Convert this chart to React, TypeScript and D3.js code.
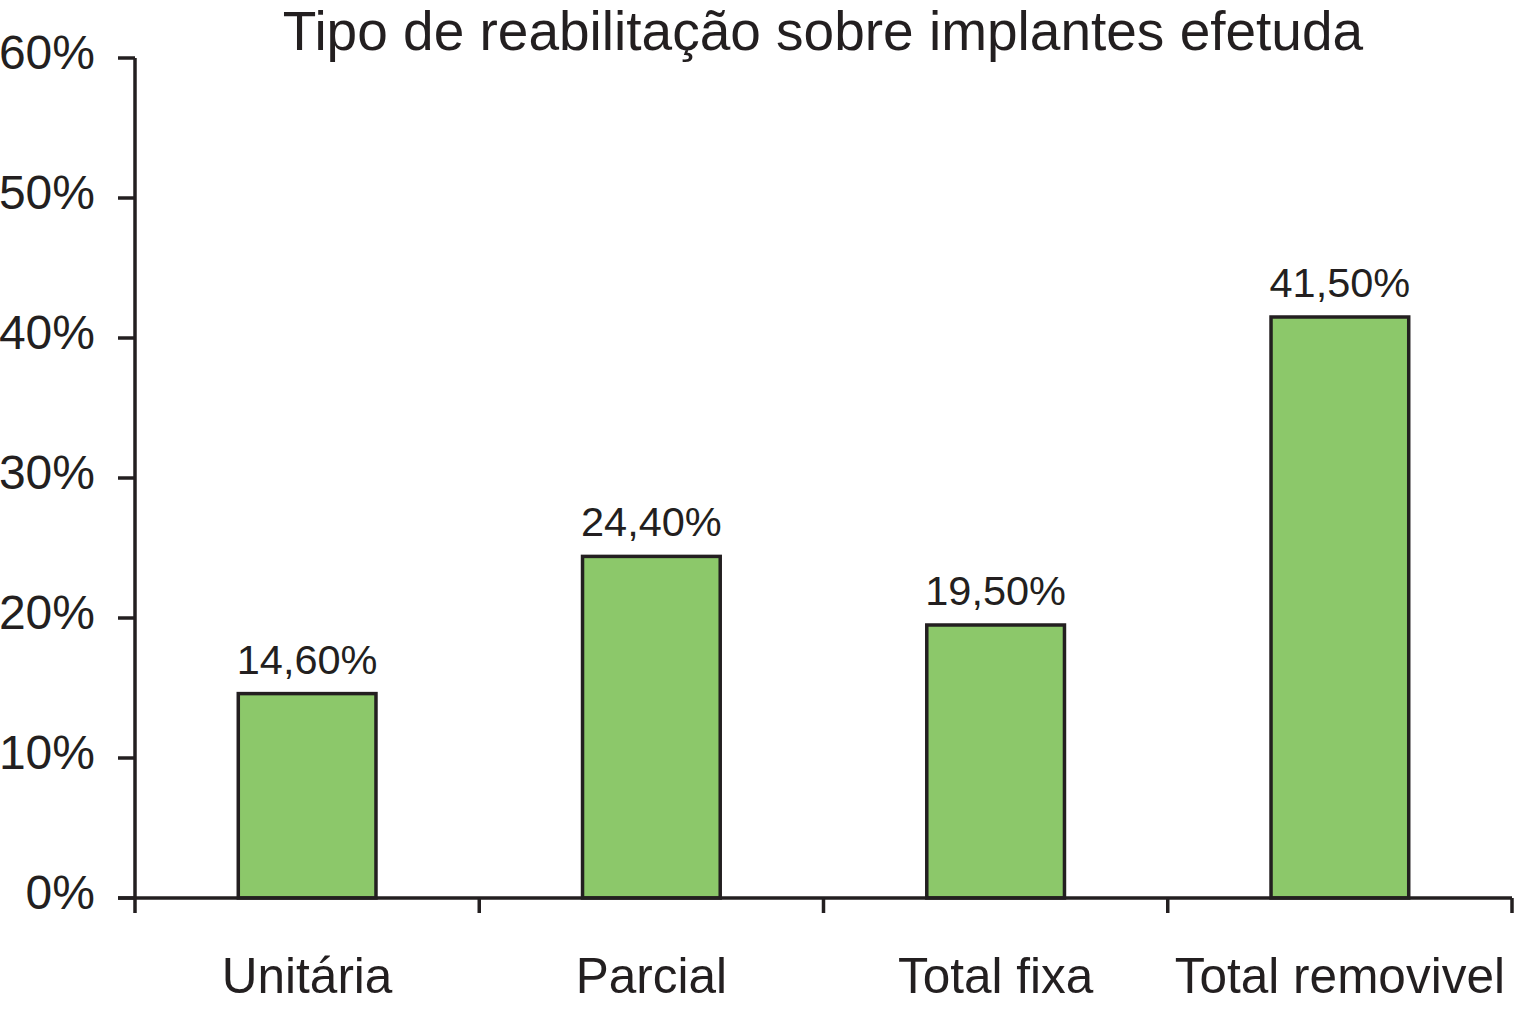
import { useMemo } from "react";
import * as d3 from "d3";

// Chart size and plot area
const WIDTH = 1515;
const HEIGHT = 1017;
const MARGIN = { top: 58, right: 3, bottom: 119, left: 135 };
const FONT = "'Liberation Sans', Arial, Helvetica, sans-serif";
const TICK_LENGTH = 17;

const TITLE = "Tipo de reabilitação sobre implantes efetuda";
const categories = ["Unitária", "Parcial", "Total fixa", "Total removivel"];
const values = [14.6, 24.4, 19.5, 41.5];
const valueLabels = ["14,60%", "24,40%", "19,50%", "41,50%"];
const yTicks = [0, 10, 20, 30, 40, 50, 60];

export default function App() {
  const boundsWidth = WIDTH - MARGIN.left - MARGIN.right;
  const boundsHeight = HEIGHT - MARGIN.top - MARGIN.bottom;

  const xScale = useMemo(
    () =>
      d3
        .scaleBand<string>()
        .domain(categories)
        .range([0, boundsWidth])
        .paddingInner(0.6)
        .paddingOuter(0.3),
    [boundsWidth]
  );

  const yScale = useMemo(
    () => d3.scaleLinear().domain([0, 60]).range([boundsHeight, 0]),
    [boundsHeight]
  );

  const step = xScale.step();
  // category separators on the x axis
  const xTickPositions = d3.range(categories.length + 1).map((i) => i * step);

  return (
    <svg
      width={WIDTH}
      height={HEIGHT}
      style={{ position: "absolute", left: 0, top: 0, background: "#fff" }}
      fontFamily={FONT}
    >
      <rect width={WIDTH} height={HEIGHT} fill="#fff" />
      <text
        x={823}
        y={50}
        textAnchor="middle"
        fontSize={55}
        fill="#231f20"
      >
        {TITLE}
      </text>

      <g transform={`translate(${MARGIN.left},${MARGIN.top})`}>
        {/* Bars */}
        {categories.map((c, i) => (
          <g key={c}>
            <rect
              x={xScale(c)}
              y={yScale(values[i])}
              width={xScale.bandwidth()}
              height={boundsHeight - yScale(values[i])}
              fill="#8cc86a"
              stroke="#231f20"
              strokeWidth={3.5}
            />
            <text
              x={(xScale(c) ?? 0) + xScale.bandwidth() / 2}
              y={yScale(values[i]) - 20}
              textAnchor="middle"
              fontSize={41.5}
              fill="#231f20"
            >
              {valueLabels[i]}
            </text>
            <text
              x={(xScale(c) ?? 0) + xScale.bandwidth() / 2}
              y={boundsHeight + 95}
              textAnchor="middle"
              fontSize={49.5}
              fill="#231f20"
            >
              {c}
            </text>
          </g>
        ))}

        {/* Y axis */}
        <line x1={0} x2={0} y1={0} y2={boundsHeight} stroke="#231f20" strokeWidth={3.5} />
        {yTicks.map((t) => (
          <g key={t} transform={`translate(0,${yScale(t)})`}>
            <line x1={-TICK_LENGTH} x2={0} stroke="#231f20" strokeWidth={3.5} />
            <text
              x={-40}
              y={11}
              textAnchor="end"
              fontSize={48}
              fill="#231f20"
            >
              {t}%
            </text>
          </g>
        ))}

        {/* X axis */}
        <line
          x1={-TICK_LENGTH}
          x2={boundsWidth}
          y1={boundsHeight}
          y2={boundsHeight}
          stroke="#231f20"
          strokeWidth={3.5}
        />
        {xTickPositions.map((x) => (
          <line
            key={x}
            x1={x}
            x2={x}
            y1={boundsHeight}
            y2={boundsHeight + 15}
            stroke="#231f20"
            strokeWidth={3.5}
          />
        ))}
      </g>
    </svg>
  );
}
